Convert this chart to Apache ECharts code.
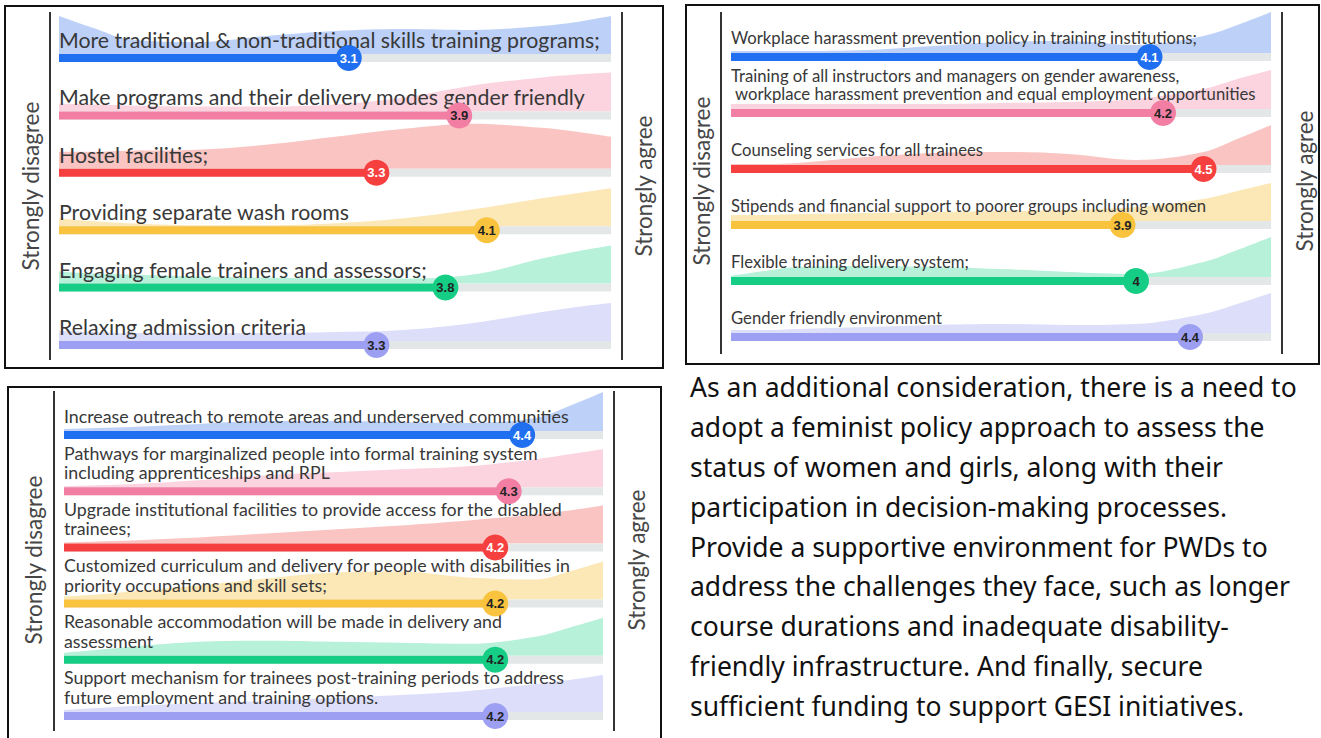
<!DOCTYPE html>
<html>
<head>
<meta charset="utf-8">
<title>GESI survey</title>
<script src="https://cdn.jsdelivr.net/npm/echarts@6/dist/echarts.min.js"></script>
<style>
  html, body { margin: 0; padding: 0; background: #fff; }
  #chart { width: 1321px; height: 738px; }
</style>
</head>
<body>
<div id="chart"></div>
<script>
// agreement scale: 1 = strongly disagree, 5 = strongly agree
const scaleMin = 1;
const scaleMax = 5;

const rowColors = ['#1f6ff0', '#f27ea4', '#f6403f', '#f9c33d', '#16cd85', '#9c9ff2'];
const waveColors = ['#bdd1f8', '#fbd4df', '#f9c4c1', '#fce7b6', '#b7f1da', '#dcdefa'];
const badgeText = ['#ffffff', '#222222', '#ffffff', '#222222', '#222222', '#222222'];
const trackColor = '#e4e7e7';

const waveX = [1, 1.25, 1.5, 2, 2.5, 3, 3.5, 4, 4.5, 4.75, 5];

const p1Labels = [
    'More traditional & non-traditional skills training programs;',
    'Make programs and their delivery modes gender friendly',
    'Hostel facilities;',
    'Providing separate wash rooms',
    'Engaging female trainers and assessors;',
    'Relaxing admission criteria'
];
const p1Scores = [3.1, 3.9, 3.3, 4.1, 3.8, 3.3];
const p1Waves = [
    [38, 26, 15, 12, 18, 23, 25, 24, 28, 32, 38],
    [8, 7, 6, 5, 5, 7, 14, 26, 34, 37, 39],
    [17, 17, 18, 19, 24, 32, 40, 45, 41, 37, 32],
    [8, 5, 3, 1, 1, 3, 8, 17, 28, 33, 38],
    [12, 10, 9, 7, 6, 5, 5, 9, 25, 32, 38],
    [10, 9, 8, 8, 8, 9, 11, 18, 29, 34, 38]
];

const p2Labels = [
    'Workplace harassment prevention policy in training institutions;',
    'Training of all instructors and managers on gender awareness,\n workplace harassment prevention and equal employment opportunities',
    'Counseling services for all trainees',
    'Stipends and financial support to poorer groups including women',
    'Flexible training delivery system;',
    'Gender friendly environment'
];
const p2Scores = [4.1, 4.2, 4.5, 3.9, 4, 4.4];
const p2Waves = [
    [2, 2, 2, 3, 7, 11, 12, 8, 17, 28, 41],
    [5, 5, 5, 5, 5, 6, 7, 10, 20, 30, 39],
    [1, 1, 2, 8, 12, 13, 11, 5, 13, 26, 40],
    [6, 6, 7, 8, 9, 10, 11, 14, 22, 30, 38],
    [1, 6, 10, 11, 10, 8, 5, 3, 15, 27, 40],
    [3, 3, 4, 6, 8, 9, 8, 9, 19, 29, 40]
];

const p3Labels = [
    'Increase outreach to remote areas and underserved communities',
    'Pathways for marginalized people into formal training system\nincluding apprenticeships and RPL',
    'Upgrade institutional facilities to provide access for the disabled\ntrainees;',
    'Customized curriculum and delivery for people with disabilities in\npriority occupations and skill sets;',
    'Reasonable accommodation will be made in delivery and\nassessment',
    'Support mechanism for trainees post-training periods to address\nfuture employment and training options.'
];
const p3Scores = [4.4, 4.3, 4.2, 4.2, 4.2, 4.2];
const p3Waves = [
    [2, 3, 4, 7, 10, 10, 9, 8, 13, 25, 39],
    [1, 2, 3, 7, 12, 15, 18, 21, 28, 33, 38],
    [1, 2, 3, 6, 10, 14, 18, 23, 29, 33, 38],
    [3, 5, 8, 14, 21, 27, 28, 22, 20, 28, 38],
    [3, 6, 9, 14, 15, 14, 13, 12, 19, 28, 38],
    [2, 4, 6, 9, 11, 14, 17, 21, 28, 32, 37]
];

const noteLines = [
    'As an additional consideration, there is a need to',
    'adopt a feminist policy approach to assess the',
    'status of women and girls, along with their',
    'participation in decision-making processes.',
    'Provide a supportive environment for PWDs to',
    'address the challenges they face, such as longer',
    'course durations and inadequate disability-',
    'friendly infrastructure. And finally, secure',
    'sufficient funding to support GESI initiatives.'
];

const chartFont = 'Lato, "Noto Sans", sans-serif';

const panels = [
    { labels: p1Labels, scores: p1Scores, waves: p1Waves,
      left: 59, right: 611, firstBar: 58, step: 57.4, fontSize: 21.3, lineGap: 20, labelOffset: 18,
      box: [5, 6, 658, 362], lines: [50, 622], lineTop: 12, lineBottom: 360,
      disagreeX: 30, agreeX: 643, midY: 186 },
    { labels: p2Labels, scores: p2Scores, waves: p2Waves,
      left: 731, right: 1271, firstBar: 57, step: 56, fontSize: 16.7, lineGap: 18, labelOffset: 19,
      box: [686, 5, 633, 359], lines: [721, 1282], lineTop: 12, lineBottom: 354,
      disagreeX: 701, agreeX: 1304, midY: 181 },
    { labels: p3Labels, scores: p3Scores, waves: p3Waves,
      left: 64, right: 603, firstBar: 435, step: 56.2, fontSize: 17.8, lineGap: 19.6, labelOffset: 19,
      box: [8, 387, 653, 400], lines: [54, 614], lineTop: 391, lineBottom: 731,
      disagreeX: 33, agreeX: 636, midY: 560 }
];

let grids = [], xAxes = [], yAxes = [], series = [], graphics = [];

panels.forEach((p) => {
    graphics.push({
        type: 'rect', z: 1, shape: { x: p.box[0], y: p.box[1], width: p.box[2], height: p.box[3] },
        style: { fill: 'none', stroke: '#111', lineWidth: 2 }, silent: true
    });
    p.lines.forEach((lx) => {
        graphics.push({
            type: 'line', z: 1, shape: { x1: lx, y1: p.lineTop, x2: lx, y2: p.lineBottom },
            style: { stroke: '#333', lineWidth: 2 }, silent: true
        });
    });
    graphics.push({
        type: 'text', z: 10, x: p.disagreeX, y: p.midY, rotation: Math.PI / 2,
        style: { text: 'Strongly disagree', fontSize: 22.5, fontFamily: chartFont, fill: '#474747', align: 'center', verticalAlign: 'middle' }
    });
    graphics.push({
        type: 'text', z: 10, x: p.agreeX, y: p.midY, rotation: Math.PI / 2,
        style: { text: 'Strongly agree', fontSize: 22.5, fontFamily: chartFont, fill: '#474747', align: 'center', verticalAlign: 'middle' }
    });

    p.labels.forEach((label, i) => {
        const barY = p.firstBar + i * p.step;
        const gi = grids.length;
        grids.push({ left: p.left, top: barY - 50, width: p.right - p.left, height: 56 });
        xAxes.push({ type: 'value', gridIndex: gi, min: scaleMin, max: scaleMax, show: false });
        yAxes.push({ type: 'value', gridIndex: gi, min: -10, max: 46, show: false });

        // spread of answers, drawn above the bar
        series.push({
            type: 'line', z: 2, xAxisIndex: gi, yAxisIndex: gi, smooth: 0.35, symbol: 'none', silent: true,
            lineStyle: { width: 0 }, areaStyle: { color: waveColors[i], opacity: 1 },
            data: waveX.map((x, k) => [x, p.waves[i][k]])
        });
        // grey track across the whole scale
        series.push({
            type: 'line', z: 3, xAxisIndex: gi, yAxisIndex: gi, symbol: 'none', silent: true,
            lineStyle: { color: trackColor, width: 8 },
            data: [[scaleMin, -4], [scaleMax, -4]]
        });
        // the score bar
        series.push({
            type: 'line', z: 4, xAxisIndex: gi, yAxisIndex: gi, symbol: 'none', silent: true,
            lineStyle: { color: rowColors[i], width: 8 },
            data: [[scaleMin, -4], [p.scores[i], -4]]
        });
        series.push({
            type: 'scatter', z: 20, clip: false, xAxisIndex: gi, yAxisIndex: gi, symbolSize: 26, silent: true,
            itemStyle: { color: rowColors[i], opacity: 1 },
            label: {
                show: true, position: 'inside', formatter: String(p.scores[i]),
                color: badgeText[i], fontSize: 13, fontWeight: 600,
                fontFamily: '"Liberation Sans Narrow", "Liberation Sans", Arial, sans-serif'
            },
            data: [[p.scores[i], -4]]
        });

        // one text block per label; wrapped labels grow upwards from the bar
        const nRows = label.split('\n').length;
        graphics.push({
            type: 'text', z: 10, x: p.left, y: barY - p.labelOffset - (nRows - 1) * p.lineGap / 2,
            style: {
                text: label, fontSize: p.fontSize, lineHeight: p.lineGap, fontFamily: chartFont,
                fill: '#383838', align: 'left', verticalAlign: 'middle'
            }
        });
    });
});

graphics.push({
    type: 'text', z: 10, x: 690, y: 367,
    style: {
        text: noteLines.join('\n'), fontSize: 26.5, lineHeight: 39.9,
        fontFamily: '"Noto Sans", "Open Sans", sans-serif', fill: '#111', align: 'left', verticalAlign: 'top'
    }
});

let myChart = echarts.init(document.getElementById('chart'), null, { renderer: 'svg' });
myChart.setOption({
    animation: false,
    grid: grids,
    xAxis: xAxes,
    yAxis: yAxes,
    series: series,
    graphic: graphics
});
</script>
</body>
</html>
